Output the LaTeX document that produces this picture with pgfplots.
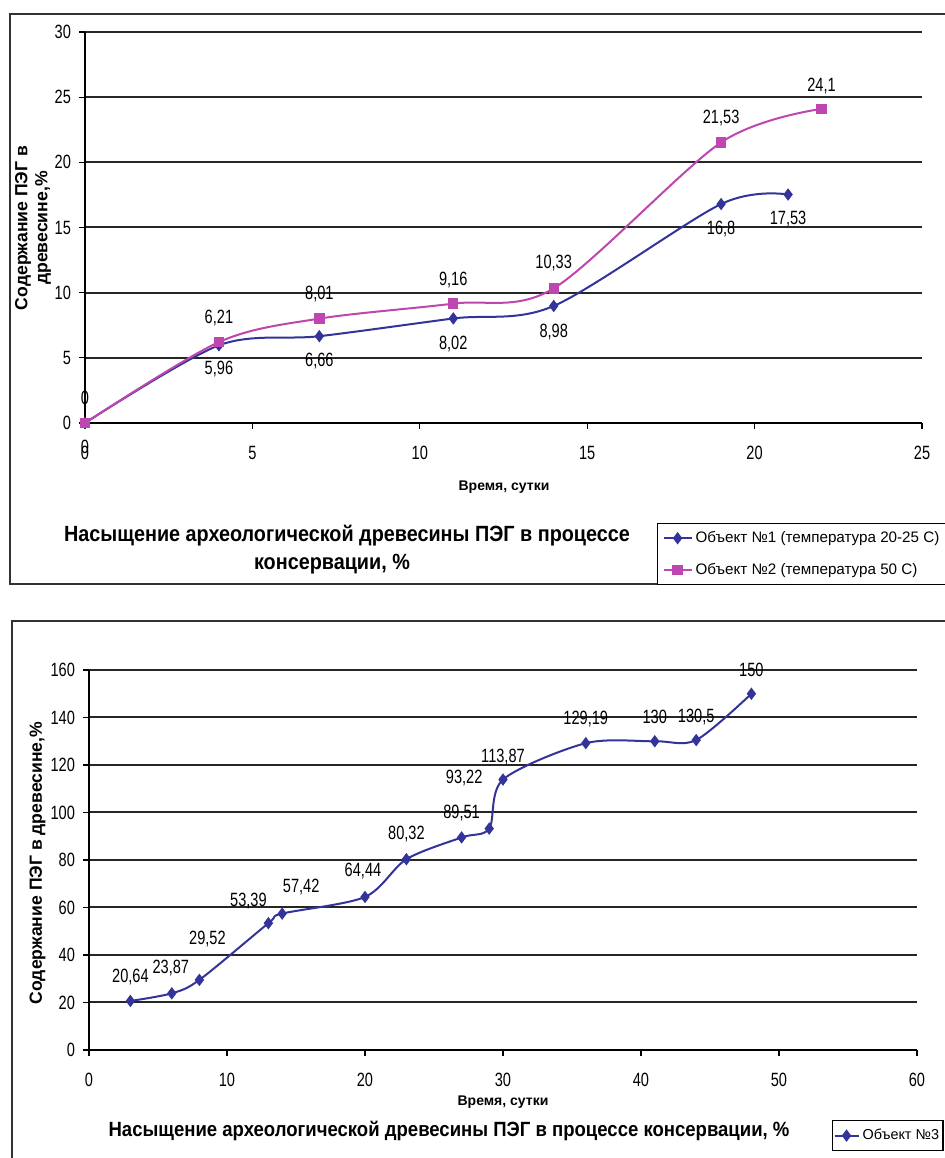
\documentclass[border=0pt]{standalone}
\usepackage{fontspec}
\setmainfont{Liberation Sans}
\newfontfamily\narrowfont[FakeStretch=0.76]{Liberation Sans}
\newfontfamily\titlefont[FakeStretch=0.9]{Liberation Sans}
\usepackage{pgfplots}
\pgfplotsset{compat=1.18}
\usepackage{pgfplotstable}
\definecolor{serA}{RGB}{51,51,153}
\definecolor{serB}{RGB}{190,70,175}
\definecolor{frameC}{RGB}{50,50,50}

\pgfplotstableread{
x y lbl dx dy
0 0 0 0 -12
4 5.96 5,96 0 -12
7 6.66 6,66 0 -12.5
11 8.02 8,02 0 -13
14 8.98 8,98 0 -13
19 16.8 16,8 0 -12.5
21 17.53 17,53 0 -12.5
}\objA

\pgfplotstableread{
x y lbl dx dy
0 0 0 0 12.5
4 6.21 6,21 0 12
7 8.01 8,01 0 12.5
11 9.16 9,16 0 12
14 10.33 10,33 0 12.5
19 21.53 21,53 0 12
22 24.1 24,1 0 11.5
}\objB

\pgfplotstableread{
x y lbl dx dy
3 20.64 20,64 0 12
6 23.87 23,87 -0.5 12.5
8 29.52 29,52 4 20.5
13 53.39 53,39 -10 11
14 57.42 57,42 9.5 13.5
20 64.44 64,44 -1 13
23 80.32 80,32 0 12.5
27 89.51 89,51 0 12
29 93.22 93,22 -12.5 25.5
30 113.87 113,87 0 11.5
36 129.19 129,19 0 12
41 130 130 0 12
44 130.5 130,5 0 11.5
48 150 150 0 12
}\objC

\pgfplotsset{
  chartstyle/.style={
    scale only axis, anchor=south west, clip=false,
    axis x line*=bottom, axis y line*=left,
    axis line style={-, black, line width=0.7pt},
    ymajorgrids, grid style={black!85, line width=1pt},
    tick align=outside, major tick length=3pt,
    tick style={black, line width=0.6pt},
    /pgf/number format/assume math mode=true,
    ticklabel style={font=\narrowfont\fontsize{9.6}{10}\selectfont},
    xticklabel style={yshift=-5pt},
    yticklabel style={xshift=-0.5pt},
    xlabel style={font=\bfseries\fontsize{7}{8}\selectfont, anchor=center},
    ylabel style={font=\bfseries\fontsize{8.8}{10}\selectfont, anchor=center, align=center},
    legend style={draw=black, line width=0.6pt, anchor=north west,
      inner xsep=2.5pt, inner ysep=3.3pt,
      row sep=8pt, legend cell align=left,
      nodes={inner xsep=1.5pt, inner ysep=0pt, text height=6pt, text depth=2pt}},
  },
  lbls/.style={
    nodes near coords={\pgfplotspointmeta},
    point meta=explicit symbolic,
    visualization depends on={\thisrow{dx}\as\lblx},
    visualization depends on={\thisrow{dy}\as\lbly},
    every node near coord/.append style={anchor=center, xshift=\lblx pt, yshift=\lbly pt,
      text=black, font=\narrowfont\fontsize{9.6}{10}\selectfont, inner sep=0pt},
  },
}

\begin{document}
\begin{tikzpicture}
\useasboundingbox (0,0) rectangle (472.5pt,579pt);
\fill[white] (0,0) rectangle (472.5pt,579pt);
% frames
\draw[frameC, line width=1pt] (5pt,287pt) rectangle (480pt,572pt);
\draw[frameC, line width=1pt] (6pt,-6pt) rectangle (480pt,268.5pt);

\begin{axis}[chartstyle,
  at={(42.5pt,367.5pt)}, width=418.5pt, height=195.5pt,
  xmin=0, xmax=25, ymin=0, ymax=30,
  xtick={0,5,...,25}, ytick={0,5,...,30},
  xlabel={Время, сутки},
  xlabel style={at={(axis description cs:0.5006,-0.1637)}},
  ylabel={Содержание ПЭГ в\\древесине,\%},
  ylabel style={at={(axis description cs:-0.0621,0.4987)}},
  legend style={at={(axis description cs:0.6834,-0.2558)}, font=\fontsize{7.6}{9}\selectfont},
  legend image code/.code={\draw[mark repeat=2,mark phase=2] plot coordinates {(0pt,0pt) (7pt,0pt) (14pt,0pt)};},
]
\addplot[serA, line width=1pt, smooth, mark=diamond*, mark size=2.3pt,
  mark options={solid, fill=serA, draw=serA}, lbls]
  table[x=x, y=y, meta=lbl] {\objA};
\addlegendentry{Объект №1 (температура 20-25 С)}
\addplot[serB, line width=1pt, smooth, mark=square*, mark size=2.1pt,
  mark options={solid, fill=serB, draw=serB}, lbls]
  table[x=x, y=y, meta=lbl] {\objB};
\addlegendentry{Объект №2 (температура 50 С)}
\end{axis}

\begin{axis}[chartstyle,
  at={(44.5pt,54pt)}, width=414pt, height=190pt,
  xmin=0, xmax=60, ymin=0, ymax=160,
  xtick={0,10,...,60}, ytick={0,20,...,160},
  xlabel={Время, сутки},
  xlabel style={at={(axis description cs:0.5,-0.137)}},
  ylabel={Содержание ПЭГ в древесине,\%},
  ylabel style={at={(axis description cs:-0.0622,0.492)}},
  legend style={at={(axis description cs:0.8973,-0.1842)}, font=\fontsize{7.2}{9}\selectfont,
    inner xsep=0.5pt, inner ysep=3.85pt,
    nodes={inner xsep=1.5pt, inner ysep=0pt, text height=5.5pt, text depth=1.8pt}},
  legend image code/.code={\draw[mark repeat=2,mark phase=2] plot coordinates {(0pt,0pt) (6pt,0pt) (12pt,0pt)};},
]
\addplot[serA, line width=1pt, smooth, mark=diamond*, mark size=2.3pt,
  mark options={solid, fill=serA, draw=serA}, lbls]
  table[x=x, y=y, meta=lbl] {\objC};
\addlegendentry{Объект №3}
\end{axis}

\node[font=\titlefont\bfseries\fontsize{11}{13}\selectfont] at (173.5pt,311pt)
  {Насыщение археологической древесины ПЭГ в процессе};
\node[font=\titlefont\bfseries\fontsize{11}{13}\selectfont] at (166pt,297pt)
  {консервации, \%};
\node[font=\titlefont\bfseries\fontsize{10.3}{12}\selectfont] at (224.5pt,13.5pt)
  {Насыщение археологической древесины ПЭГ в процессе консервации, \%};
\end{tikzpicture}
\end{document}
